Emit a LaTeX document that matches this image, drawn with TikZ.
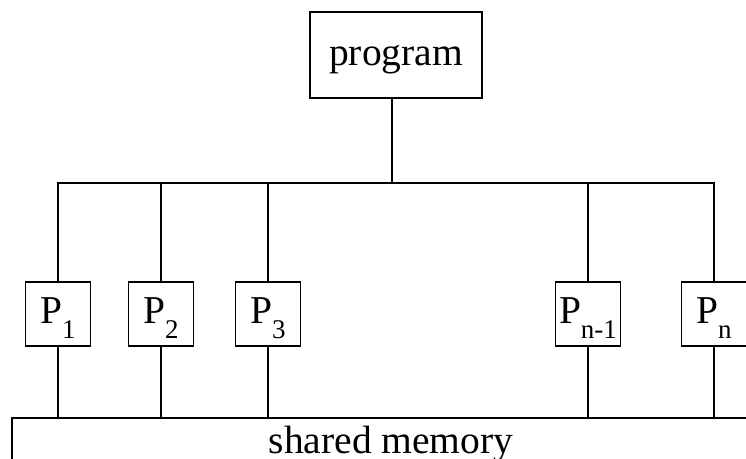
\documentclass[tikz,border=0pt]{standalone}
\usepackage{fontspec}
\setmainfont{Liberation Serif}
\newcommand{\bigtxt}{\fontsize{39.5}{40}\selectfont}
\newcommand{\subtxt}[1]{\raisebox{-15pt}{\fontsize{27}{27}\selectfont #1}}
\begin{document}
\begin{tikzpicture}[x=1pt,y=1pt,line width=1.2pt,
  box/.style={draw,inner sep=0pt,font=\bigtxt},
  pbox/.style={box,minimum width=65pt,minimum height=64pt,text height=26pt,text depth=8pt}]
\useasboundingbox (0,0) rectangle (746,458);
\clip (0,0) rectangle (746,458);
\node[box,minimum width=172pt,minimum height=86pt,text height=30pt,text depth=8pt] (prog) at (396,403) {program};
\coordinate (j) at (392,275);
\node[pbox] (P1) at (58,144) {P\subtxt{1}};
\node[pbox] (P2) at (161,144) {P\subtxt{2}};
\node[pbox] (P3) at (268,144) {P\subtxt{3}};
\node[pbox] (Pm) at (588,144) {P\subtxt{n-1}};
\node[pbox] (Pn) at (714,144) {P\subtxt{n}};
\node[box,minimum width=758pt,minimum height=70pt,text height=10pt,text depth=10pt] (mem) at (391,5) {shared memory};
\draw (prog.south -| j) -- (j);
\draw (P1.north) -- (P1.north |- j) -- (Pn.north |- j) -- (Pn.north);
\foreach \p in {P2,P3,Pm} \draw (\p.north) -- (\p.north |- j);
\foreach \p in {P1,P2,P3,Pm,Pn} \draw (\p.south) -- (\p.south |- mem.north);
\end{tikzpicture}
\end{document}
